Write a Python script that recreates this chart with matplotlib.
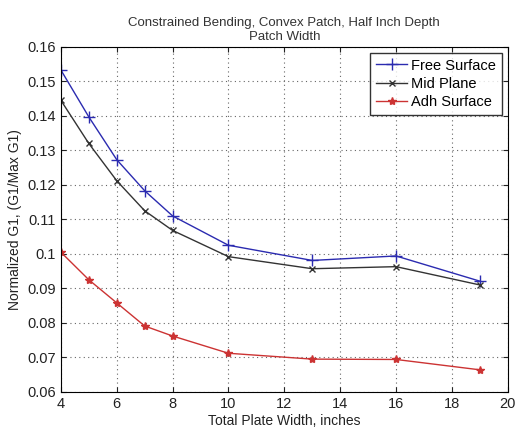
import matplotlib
matplotlib.use("Agg")
import matplotlib.pyplot as plt

plt.rcParams["font.family"] = ["Liberation Sans", "DejaVu Sans"]

# plate width (inches) and normalized G1 values
width = [4, 5, 6, 7, 8, 10, 13, 16, 19]
free_surface = [0.1533, 0.1397, 0.1273, 0.1183, 0.1110, 0.1025, 0.0981, 0.0994, 0.0921]
mid_plane = [0.1445, 0.1320, 0.1212, 0.1125, 0.1068, 0.0992, 0.0957, 0.0963, 0.0910]
adh_surface = [0.1005, 0.0925, 0.0858, 0.0791, 0.0762, 0.0712, 0.0695, 0.0694, 0.0664]

fig = plt.figure(figsize=(5.16, 4.34), dpi=100)
ax = fig.add_axes([0.118, 0.097, 0.866, 0.795])

ax.plot(width, free_surface, color="#2b2bb0", marker="+", markersize=8, lw=1, label="Free Surface")
ax.plot(width, mid_plane, color="#333333", marker="x", markersize=4, lw=1, label="Mid Plane")
ax.plot(width, adh_surface, color="#cc3333", marker="*", markersize=6, lw=1, label="Adh Surface")

ax.set_xlim(4, 20)
ax.set_ylim(0.06, 0.16)
ax.set_xticks(range(4, 21, 2))
ax.set_yticks([0.06, 0.07, 0.08, 0.09, 0.1, 0.11, 0.12, 0.13, 0.14, 0.15, 0.16])
ax.set_yticklabels(["0.06", "0.07", "0.08", "0.09", "0.1", "0.11", "0.12", "0.13", "0.14", "0.15", "0.16"])
ax.grid(True, linestyle=(0, (1, 3)), color="#666666", lw=0.8)
ax.tick_params(direction="in", top=True, right=True, labelsize=10.5, colors="#222222")

ax.set_xlabel("Total Plate Width, inches", fontsize=10, labelpad=2, color="#222222")
ax.set_ylabel("Normalized G1, (G1/Max G1)", fontsize=10, labelpad=4, color="#222222")
ax.set_title("Constrained Bending, Convex Patch, Half Inch Depth\nPatch Width", fontsize=9.5, pad=5,
             color="#333333")

leg = ax.legend(loc="upper right", fancybox=False, edgecolor="black", fontsize=10.5,
                borderaxespad=0.4, handlelength=2.1, handletextpad=0.3,
                labelspacing=0.3, borderpad=0.4)
leg.get_frame().set_linewidth(1)

fig.savefig("out.png", dpi=100)
